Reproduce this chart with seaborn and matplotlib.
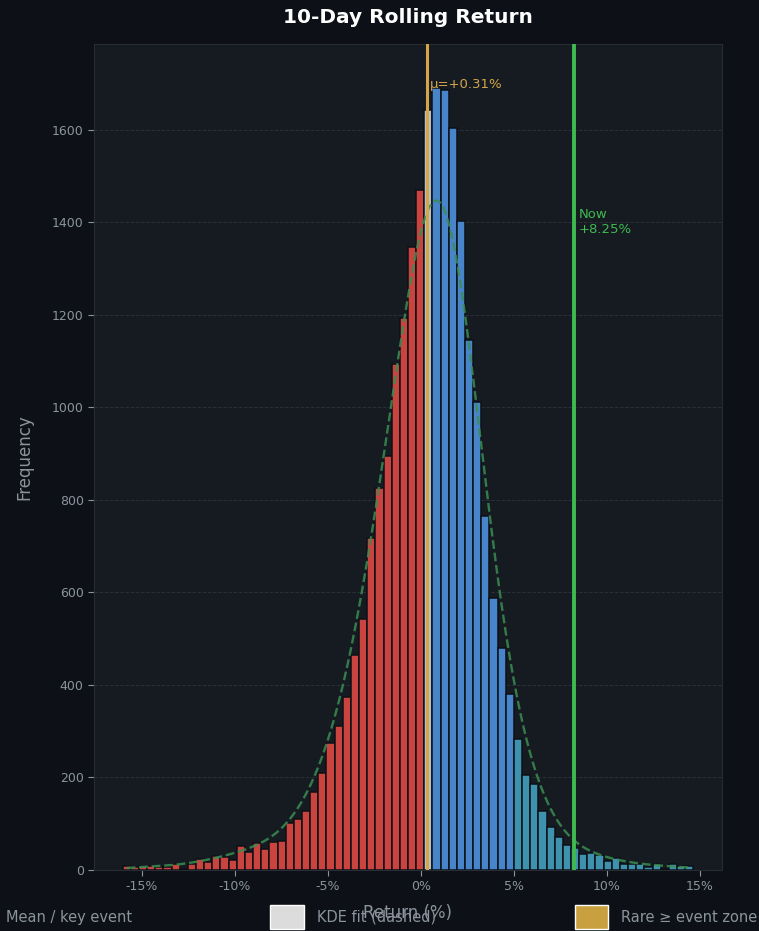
import numpy as np
import pandas as pd
import seaborn as sns
import matplotlib
matplotlib.use("Agg")
import matplotlib.pyplot as plt
from matplotlib.patches import Patch
from matplotlib.ticker import FuncFormatter

# 10-day rolling return histogram, 70 equal bins between bin_lo and bin_hi (%)
bin_lo = -16.03
bin_hi = 14.65
counts = [
    8, 6, 9, 8, 7, 7, 14, 3, 14, 23,
    17, 31, 28, 22, 53, 40, 58, 46, 61, 63,
    102, 111, 127, 169, 209, 274, 312, 375, 464, 542,
    718, 826, 895, 1093, 1194, 1346, 1470, 1643, 1690, 1687,
    1603, 1403, 1146, 1011, 766, 588, 480, 380, 284, 205,
    186, 128, 92, 71, 55, 47, 35, 36, 32, 20,
    26, 14, 14, 12, 7, 13, 3, 12, 9, 9,
]

mean_ret = 0.31
now_ret = 8.25
rare_cut = 5.0

legend_labels = ["Mean / key event", "KDE fit (dashed)", "Rare \u2265 event zone"]

BG = "#0d1117"
PANEL = "#161b22"
MUTED = "#8b949e"
RED = "#c9433f"
BLUE = "#4884c9"
TEAL = "#3e92ae"
MEANBAR = "#b8c2cc"
GOLD = "#d4a64a"
GREEN = "#3fb950"
KDE_GREEN = "#3a8d52"


def plot():
    sns.set_theme(style="dark")
    plt.rcParams["font.family"] = ["DejaVu Sans"]

    edges = np.linspace(bin_lo, bin_hi, len(counts) + 1)
    centers = (edges[:-1] + edges[1:]) / 2
    df = pd.DataFrame({"ret": centers, "count": counts})

    fig = plt.figure(figsize=(7.59, 9.31), dpi=100, facecolor=BG)
    ax = fig.add_axes([0.124, 0.0655, 0.827, 0.887])
    ax.set_facecolor(PANEL)

    sns.histplot(data=df, x="ret", weights="count", bins=edges.tolist(), kde=True,
                 kde_kws=dict(bw_adjust=0.72),
                 line_kws=dict(linestyle="--", linewidth=1.7),
                 edgecolor=BG, linewidth=1.1, alpha=1, ax=ax)

    for p in ax.patches:
        left = p.get_x()
        right = left + p.get_width()
        if left <= mean_ret < right:
            c = MEANBAR
        elif right <= mean_ret:
            c = RED
        elif left >= rare_cut:
            c = TEAL
        else:
            c = BLUE
        p.set_facecolor(c)

    kde_line = ax.lines[0]
    kde_line.set_color(KDE_GREEN)
    kde_line.set_alpha(0.85)
    kde_line.set_zorder(3)

    ax.axvline(mean_ret, color=GOLD, lw=2.2, zorder=4)
    ax.axvline(now_ret, color=GREEN, lw=2.8, zorder=4)
    ax.text(mean_ret + 0.2, 1698, f"\u03bc={mean_ret:+.2f}%", color=GOLD,
            fontsize=9.5, va="center", ha="left", zorder=5)
    ax.text(now_ret + 0.22, 1430, f"Now\n{now_ret:+.2f}%", color=GREEN,
            fontsize=9.5, va="top", ha="left", zorder=5)

    ax.set_ylim(0, 1785)
    ax.xaxis.set_major_formatter(FuncFormatter(lambda v, _: f"{v:.0f}%"))
    ax.grid(axis="y", color="#2a3038", linestyle="--", linewidth=0.7)
    ax.grid(axis="x", visible=False)
    ax.tick_params(colors=MUTED, labelsize=9, length=4, width=0.8, bottom=True, left=True)
    for s in ax.spines.values():
        s.set_color("#262c34")
        s.set_linewidth(0.8)

    ax.set_title("10-Day Rolling Return", color="white", fontsize=14.5,
                 fontweight="bold", pad=15)
    ax.set_xlabel("Return (%)", color=MUTED, fontsize=12, labelpad=7.5)
    ax.set_ylabel("Frequency", color=MUTED, fontsize=12, labelpad=13.5)

    handles = [Patch(facecolor=MEANBAR), Patch(facecolor="#dcdcdc"),
               Patch(facecolor="#c9a040")]
    fig.legend(handles, legend_labels, loc="center", ncol=3, mode="expand",
               bbox_to_anchor=(-0.054, 0.005, 1.052, 0.02), frameon=False,
               borderaxespad=0, borderpad=0, fontsize=10.5, labelcolor=MUTED,
               handlelength=2.3, handleheight=2.2, handletextpad=0.9)

    fig.savefig("out.png", dpi=100, facecolor=BG)


def main():
    plot()


if __name__ == "__main__":
    main()
